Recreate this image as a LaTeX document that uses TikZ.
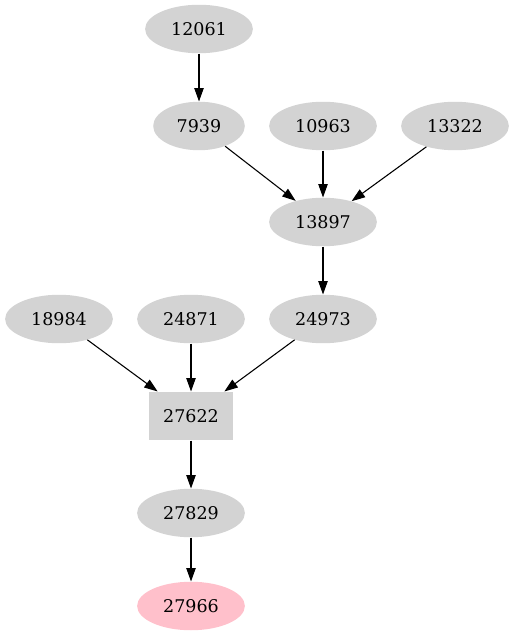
\documentclass[tikz,border=0pt]{standalone}
\usepackage{fontspec}
\setmainfont{DejaVu Serif}
\usetikzlibrary{arrows.meta,shapes.geometric}
\definecolor{gvgray}{RGB}{211,211,211}
\definecolor{gvpink}{RGB}{255,192,203}
\begin{document}
\begin{tikzpicture}[
    x=0.7424pt, y=-0.7424pt, font=\fontsize{13}{15}\selectfont,
    >={Triangle[length=10pt,width=7pt]},
    job/.style={ellipse, fill=#1, inner sep=0pt,
                minimum width=80pt, minimum height=36pt},
    job/.default=gvgray,
    merge/.style={rectangle, fill=gvgray, inner sep=0pt,
                  minimum width=62pt, minimum height=36pt},
    arr/.style={->, line width=0.8pt, black}]
  \useasboundingbox (0,0) rectangle (514,635);
  %% Rank 1
  \node[job] (n12061) at (199,29) {12061};
  %% Rank 2
  \node[job, minimum width=68pt] (n7939) at (199,126) {7939};
  \node[job] (n10963) at (323,126) {10963};
  \node[job] (n13322) at (455,126) {13322};
  %% Rank 3
  \node[job] (n13897) at (323,222) {13897};
  %% Rank 4
  \node[job] (n18984) at (59,319) {18984};
  \node[job] (n24871) at (191,319) {24871};
  \node[job] (n24973) at (323,319) {24973};
  %% Rank 5 and below
  \node[merge] (n27622) at (191,416) {27622};
  \node[job] (n27829) at (191,513) {27829};
  \node[job=gvpink] (n27966) at (191,606) {27966};
  %% Edges
  \draw[arr] (n12061) -- (n7939);
  \foreach \a in {n7939,n10963,n13322}
    \draw[arr] (\a) -- (n13897);
  \draw[arr] (n13897) -- (n24973);
  \foreach \a in {n18984,n24871,n24973}
    \draw[arr] (\a) -- (n27622);
  \draw[arr] (n27622) -- (n27829);
  \draw[arr] (n27829) -- (n27966);
\end{tikzpicture}
\end{document}
